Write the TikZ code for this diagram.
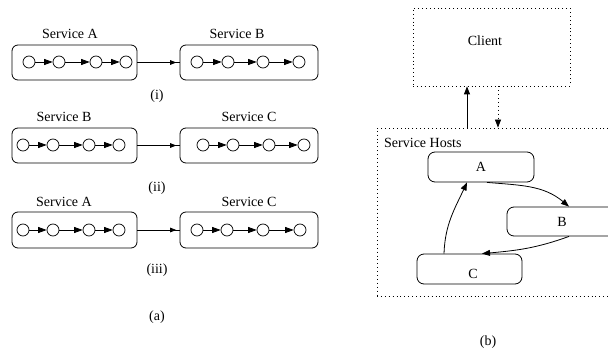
\documentclass[tikz,border=0pt]{standalone}
\usepackage{fontspec}
\setmainfont{Liberation Serif}
\usetikzlibrary{arrows.meta,decorations.markings}

% a service box: name, centre x, centre y, width, height
\newcommand\svcbox[5]{\node[svc,minimum width=#4pt,minimum height=#5pt] (#1) at (#2,-#3) {};}
% a chain of four operations inside a service: prefix, y, x1, x2, x3, x4
\newcommand\opchain[6]{%
  \node[op] (#1-1) at (#3,-#2) {};
  \node[op] (#1-2) at (#4,-#2) {};
  \node[op] (#1-3) at (#5,-#2) {};
  \node[op] (#1-4) at (#6,-#2) {};
  \draw[oplink] (#1-1) -- (#1-2);
  \draw[oplink] (#1-2) -- (#1-3);
  \draw[oplink] (#1-3) -- (#1-4);}

\begin{document}
\begin{tikzpicture}[x=1pt,y=1pt,
  every node/.style={font=\fontsize{14}{16}\selectfont},
  txt/.style={inner sep=0pt},
  svc/.style={draw,rounded corners=6pt,line width=0.8pt,inner sep=0pt},
  op/.style={draw,circle,minimum size=12pt,inner sep=0pt,line width=0.7pt},
  oplink/.style={line width=0.8pt,-{Triangle[length=8.5pt,width=6pt]}},
  link/.style={line width=0.8pt,-{Triangle[length=8pt,width=6pt]}},
  hop/.style={line width=0.8pt,postaction={decorate},
    decoration={markings,mark=at position 0.92 with {\arrow{Triangle[length=6pt,width=4.5pt]}}}},
  dotbox/.style={draw,line width=0.8pt,dash pattern=on 0.9pt off 3pt,inner sep=0pt},
  dotline/.style={dash pattern=on 0.9pt off 3pt},
  host/.style={draw,rounded corners=7pt,line width=0.8pt,inner sep=0pt},
]
\useasboundingbox (0,0) rectangle (608,-358);

% ---- (a): pairs of composed services ----
% (i)
\svcbox{r1a}{74.5}{62.5}{125}{35}
\svcbox{r1b}{249}{62.5}{138}{35}
\node[txt] (t1a) at (70,-34) {Service A};
\node[txt] (t1b) at (237,-34) {Service B};
\opchain{c1a}{62}{29}{59}{96}{126}
\opchain{c1b}{62}{197}{228}{263}{299}
\draw[hop] (r1a.east) -- (r1b.west);
\node[txt] (l1) at (157,-96) {(i)};

% (ii)
\svcbox{r2a}{74.5}{145.5}{125}{35}
\svcbox{r2b}{249}{145.5}{138}{35}
\node[txt] (t2a) at (64,-117) {Service B};
\node[txt] (t2b) at (249,-117) {Service C};
\opchain{c2a}{145}{23}{53}{89}{119}
\opchain{c2b}{145}{203}{233}{269}{304}
\draw[hop] (r2a.east) -- (r2b.west);
\node[txt] (l2) at (157,-188) {(ii)};

% (iii)
\svcbox{r3a}{74.5}{230}{125}{36}
\svcbox{r3b}{249}{230}{138}{36}
\node[txt] (t3a) at (64,-202) {Service A};
\node[txt] (t3b) at (249,-202) {Service C};
\opchain{c3a}{230}{23}{53}{89}{119}
\opchain{c3b}{230}{197}{227}{263}{300}
\draw[hop] (r3a.east) -- (r3b.west);
\node[txt] (l3) at (157,-270) {(iii)};

\node[txt] (la) at (157,-317) {(a)};

% ---- (b): client and service hosts ----
\node[dotbox,minimum width=157pt,minimum height=78pt] (client) at (491.5,-47) {};
\node[txt] (clienttxt) at (485,-41) {Client};

\node[dotbox,minimum width=250pt,minimum height=168pt] (hosts) at (502,-212) {};
\node[txt,anchor=west] (hoststxt) at (384,-143) {Service Hosts};

\draw[link] ([xshift=-24.5pt]client.south |- hosts.north) -- ([xshift=-24.5pt]client.south);
\draw[link,dotline] ([xshift=6.5pt]client.south) -- ([xshift=6.5pt]client.south |- hosts.north);

\node[host,minimum width=106pt,minimum height=30pt] (A) at (481,-167) {A};
\node[host,minimum width=110pt,minimum height=29pt] (B) at (562,-221.5) {B};
\node[host,minimum width=105pt,minimum height=30pt] (C) at (469.5,-269) {};
\node[txt] (Ctxt) at (473,-274) {C};

\draw[link] ([xshift=6pt]A.south) to[out=-5,in=140] ([xshift=7pt]B.north);
\draw[link] ([xshift=7pt]B.south) to[out=200,in=5] ([xshift=12.5pt]C.north);
\draw[link] ([xshift=-25.5pt]C.north) to[out=88,in=-115] ([xshift=-14pt]A.south);

\node[txt] (lb) at (488,-342) {(b)};
\end{tikzpicture}
\end{document}
